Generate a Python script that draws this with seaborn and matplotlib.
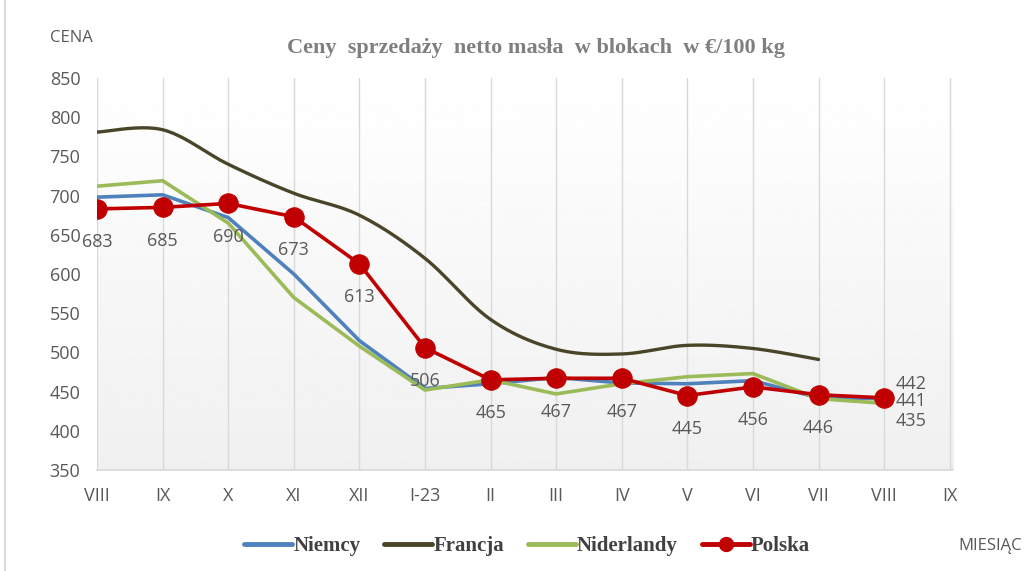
import numpy as np
import pandas as pd
import matplotlib

matplotlib.use("Agg")
import matplotlib.pyplot as plt
from matplotlib.lines import Line2D
import seaborn as sns

# data
months = ["VIII", "IX", "X", "XI", "XII", "I-23", "II", "III", "IV", "V", "VI", "VII", "VIII", "IX"]
niemcy = [698, 701, 672, 600, 515, 454, 460, 468, 461, 460, 464, 442, 441]
francja = [781, 784, 740, 703, 675, 620, 542, 504, 498, 509, 505, 491]
niderlandy = [712, 719, 665, 570, 508, 452, 465, 447, 460, 469, 473, 441, 435]
polska = [683, 685, 690, 673, 613, 506, 465, 467, 467, 445, 456, 446, 442]

sns.set_theme(style="white")
plt.rcParams["font.family"] = ["Open Sans", "DejaVu Sans"]

GRAY = "#595959"
C_NIE = "#4F81BD"
C_FRA = "#4A4529"
C_NID = "#9BBB59"
C_POL = "#C00000"


def catmull_rom(y, steps=24):
    """Excel-like smoothed line through the points."""
    y = np.asarray(y, dtype=float)
    x = np.arange(len(y), dtype=float)
    px = np.concatenate([[x[0]], x, [x[-1]]])
    py = np.concatenate([[y[0]], y, [y[-1]]])
    xs, ys = [], []
    for i in range(1, len(px) - 2):
        t = np.linspace(0, 1, steps, endpoint=False)
        for arr, out in ((px, xs), (py, ys)):
            p0, p1, p2, p3 = arr[i - 1], arr[i], arr[i + 1], arr[i + 2]
            out.extend(0.5 * ((2 * p1) + (-p0 + p2) * t
                              + (2 * p0 - 5 * p1 + 4 * p2 - p3) * t ** 2
                              + (-p0 + 3 * p1 - 3 * p2 + p3) * t ** 3))
    xs.append(x[-1])
    ys.append(y[-1])
    return np.array(xs), np.array(ys)


fig = plt.figure(figsize=(10.32, 5.71), dpi=100)
ax = fig.add_axes([97 / 1032, 101 / 571, 856 / 1032, 392 / 571])

# gradient background
grad = np.linspace(1.0, 0.94, 256).reshape(-1, 1)
ax.imshow(grad, cmap="gray", vmin=0, vmax=1, aspect="auto", extent=[0, 1, 0, 1],
          transform=ax.transAxes, zorder=0)

fx, fy = catmull_rom(francja)
df_fra = pd.DataFrame({"x": fx, "y": fy})
sns.lineplot(data=df_fra, x="x", y="y", ax=ax, color=C_FRA, lw=2.4, sort=False, zorder=3)

idx = np.arange(len(niemcy))
sns.lineplot(x=idx, y=niemcy, ax=ax, color=C_NIE, lw=2.6, zorder=4)
sns.lineplot(x=idx, y=niderlandy, ax=ax, color=C_NID, lw=2.6, zorder=4)
sns.lineplot(x=idx, y=polska, ax=ax, color=C_POL, lw=2.6, marker="o", markersize=14,
             markeredgecolor=C_POL, zorder=5)

# data labels
for i, v in enumerate(polska[:-1]):
    ax.annotate(str(v), (i, v), xytext=(0, -24), textcoords="offset points",
                ha="center", va="center", fontsize=13, color=GRAY, zorder=6)
last = len(polska) - 1
for v, dy in ((polska[-1], 10), (niemcy[-1], -2), (niderlandy[-1], -13)):
    ax.annotate(str(v), (last, v), xytext=(8, dy), textcoords="offset points",
                ha="left", va="center", fontsize=13, color=GRAY, zorder=6)

ax.set_xlim(0, 13.05)
ax.set_ylim(350, 850)
ax.set_yticks(range(350, 851, 50))
ax.set_xticks(range(len(months)))
ax.set_xticklabels(months)
ax.tick_params(axis="both", labelsize=13, colors=GRAY, length=0)
ax.tick_params(axis="x", pad=12)
ax.tick_params(axis="y", pad=12)
ax.set_xlabel("")
ax.set_ylabel("")
ax.grid(axis="x", color="#D9D9D9", lw=1)
for s in ["top", "right", "left"]:
    ax.spines[s].set_visible(False)
ax.spines["bottom"].set_color("#D9D9D9")
ax.spines["bottom"].set_linewidth(1.2)

# titles and axis captions
fig.text(536 / 1032, 1 - 48 / 571, "Ceny  sprzedaży  netto masła  w blokach  w €/100 kg",
         ha="center", va="center", fontsize=16, fontweight="bold", color="#7F7F7F",
         family=["Liberation Serif", "DejaVu Serif"])
fig.text(50 / 1032, 1 - 38 / 571, "CENA", ha="left", va="center", fontsize=12, color=GRAY)
fig.text(958 / 1032, 1 - 546 / 571, "MIESIĄC", ha="left", va="center", fontsize=12, color=GRAY)

# chart border on the left
fig.add_artist(Line2D([5 / 1032, 5 / 1032], [0, 1], color="#D9D9D9", lw=1.5))

handles = [
    Line2D([], [], color=C_NIE, lw=3.5),
    Line2D([], [], color=C_FRA, lw=3.5),
    Line2D([], [], color=C_NID, lw=3.5),
    Line2D([], [], color=C_POL, lw=3.5, marker="o", markersize=10),
]
leg = fig.legend(handles, ["Niemcy", "Francja", "Niderlandy", "Polska"], ncol=4,
                 loc="center", bbox_to_anchor=(527 / 1032, 1 - 546 / 571), frameon=False,
                 handlelength=2.3, handletextpad=0.05, columnspacing=1.15,
                 prop={"family": ["Liberation Serif", "DejaVu Serif"], "weight": "bold", "size": 15})
for t in leg.get_texts():
    t.set_color("#404040")

fig.savefig("out.png", dpi=100)
